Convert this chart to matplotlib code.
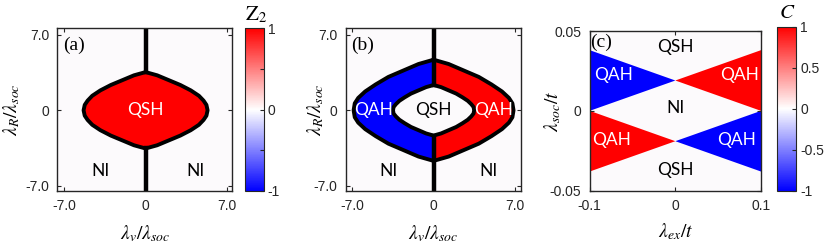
import numpy as np
import matplotlib
matplotlib.use("Agg")
import matplotlib.pyplot as plt
from matplotlib.patches import Polygon
from matplotlib.colors import Normalize
from matplotlib.cm import ScalarMappable

plt.rcParams['font.family'] = ['Liberation Sans', 'DejaVu Sans']
plt.rcParams['mathtext.fontset'] = 'stix'

# ---------------- data ----------------
# (a) boundary of QSH lens (upper-right quarter, lambda_v, lambda_R)
a_lens_x = [0.0, 1.0, 2.0, 3.0, 3.9, 4.6, 5.0, 5.25, 5.35]
a_lens_y = [3.55, 3.25, 2.8, 2.35, 1.85, 1.35, 0.9, 0.5, 0.0]
# (b) outer and inner boundaries (upper-right quarter)
b_out_x = [0.0, 1.3, 2.6, 3.9, 5.0, 5.9, 6.5, 6.8, 6.9]
b_out_y = [4.7, 4.3, 3.7, 3.1, 2.4, 1.75, 1.15, 0.65, 0.0]
b_in_x = [0.0, 0.65, 1.3, 1.95, 2.5, 2.95, 3.25, 3.45, 3.5]
b_in_y = [2.35, 2.15, 1.85, 1.55, 1.2, 0.88, 0.57, 0.3, 0.0]
# phase values
z2_qsh = 1
c_left = -1
c_right = 1
# (c) Chern-number triangles: (lambda_ex, lambda_soc) vertices and C value
c_tri_x = [[-0.1, -0.1, 0.0], [0.1, 0.1, 0.0], [-0.1, -0.1, 0.0], [0.1, 0.1, 0.0]]
c_tri_y = [[0.038, 0.0, 0.019], [0.038, 0.0, 0.019],
           [0.0, -0.038, -0.019], [0.0, -0.038, -0.019]]
c_tri_val = [-1, 1, 1, -1]

ticks_ab = [-7.0, 0.0, 7.0]
ticklabels_ab_x = ['-7.0', '0', '7.0']
ticks_cx = [-0.1, 0.0, 0.1]
ticklabels_cx = ['-0.1', '0', '0.1']
ticks_cy = [-0.05, 0.0, 0.05]
ticklabels_cy = ['-0.05', '0', '0.05']
cbar_a_ticks = [-1, -0.5, 0, 0.5, 1]
cbar_a_labels = ['-1', '', '0', '', '1']
cbar_c_ticks = [-1, -0.5, 0, 0.5, 1]
cbar_c_labels = ['-1', '-0.5', '0', '0.5', '1']

# ------------------------------------------------------------
W, H = 831, 247
fig = plt.figure(figsize=(W / 100, H / 100), dpi=100)
cmap = plt.get_cmap('bwr')
norm = Normalize(-1, 1)
bg = '#fcfafc'
dark = '#262626'
TL = 10


def fx(px):
    return px / W


def fy(py):
    return 1 - py / H


def make_ax(l, r, t, b):
    return fig.add_axes([fx(l), fy(b), fx(r) - fx(l), (b - t) / H])


def style(ax):
    ax.set_facecolor(bg)
    for s in ax.spines.values():
        s.set_color(dark)
        s.set_linewidth(1.0)
    ax.tick_params(direction='in', top=True, right=True, length=3, width=0.8,
                   color=dark, labelcolor=dark, labelsize=TL, pad=6)


def full_lens(qx, qy):
    qx = np.asarray(qx); qy = np.asarray(qy)
    rx = np.concatenate([qx, qx[::-1][1:]])
    ry = np.concatenate([qy, -qy[::-1][1:]])
    lx = -rx[::-1][1:]
    ly = ry[::-1][1:]
    return np.concatenate([rx, lx]), np.concatenate([ry, ly])


def half(qx, qy, sign):
    qx = np.asarray(qx); qy = np.asarray(qy)
    x = np.concatenate([qx, qx[::-1][1:]]) * sign
    y = np.concatenate([qy, -qy[::-1][1:]])
    return x, y


lab_kw = dict(fontsize=12.5, family=['Lato', 'DejaVu Sans'], ha='center', va='center')
xlim_ab = (-7.6, 7.5)
ylim_ab = (-7.5, 7.6)
LBL = 14

# ---------------- (a) ----------------
axa = make_ax(57.5, 232.5, 28.5, 191)
style(axa)
lx, ly = full_lens(a_lens_x, a_lens_y)
axa.add_patch(Polygon(np.column_stack([lx, ly]), closed=True,
                      facecolor=cmap(norm(z2_qsh)), edgecolor='none'))
axa.plot(np.append(lx, lx[0]), np.append(ly, ly[0]), color='k', lw=2.8, solid_joinstyle='round')
axa.plot([0, 0], [a_lens_y[0], 9], color='k', lw=3.2)
axa.plot([0, 0], [-a_lens_y[0], -9], color='k', lw=3.2)
axa.set_xlim(*xlim_ab); axa.set_ylim(*ylim_ab)
axa.set_xticks(ticks_ab); axa.set_xticklabels(ticklabels_ab_x)
axa.set_yticks(ticks_ab); axa.set_yticklabels(ticklabels_ab_x)
axa.text(0, 0, 'QSH', color='white', **lab_kw)
axa.text(-3.9, -5.6, 'NI', color='black', **lab_kw)
axa.text(4.35, -5.6, 'NI', color='black', **lab_kw)
axa.text(0.03, 0.95, '(a)', transform=axa.transAxes, fontsize=14,
         family='Liberation Serif', ha='left', va='top')
axa.set_xlabel(r'$\lambda_v/\lambda_{soc}$', fontsize=LBL)
axa.xaxis.set_label_coords(0.5, -0.2)
axa.set_ylabel(r'$\lambda_R/\lambda_{soc}$', fontsize=LBL)
axa.yaxis.set_label_coords(-0.2, 0.5)

# colorbar a
caxa = make_ax(245, 263.5, 28.5, 191)
cba = fig.colorbar(ScalarMappable(norm=norm, cmap=cmap), cax=caxa)
cba.set_ticks(cbar_a_ticks); cba.set_ticklabels(cbar_a_labels)
cba.outline.set_edgecolor(dark); cba.outline.set_linewidth(0.8)
caxa.tick_params(direction='in', length=3, width=0.8, color=dark, labelcolor=dark,
                 labelsize=TL, pad=3)
fig.text(fx(256), fy(15), r'$\mathrm{Z}_2$', fontsize=15, ha='center', va='center')

# ---------------- (b) ----------------
axb = make_ax(345.5, 520.5, 28.5, 191)
style(axb)
for sign, val in [(-1, c_left), (1, c_right)]:
    ox, oy = half(b_out_x, b_out_y, sign)
    ix, iy = half(b_in_x, b_in_y, sign)
    px = np.concatenate([ox, ix[::-1]])
    py = np.concatenate([oy, iy[::-1]])
    axb.add_patch(Polygon(np.column_stack([px, py]), closed=True,
                          facecolor=cmap(norm(val)), edgecolor='none'))
ox, oy = full_lens(b_out_x, b_out_y)
ix, iy = full_lens(b_in_x, b_in_y)
axb.plot(np.append(ox, ox[0]), np.append(oy, oy[0]), color='k', lw=2.8, solid_joinstyle='round')
axb.plot(np.append(ix, ix[0]), np.append(iy, iy[0]), color='k', lw=2.8, solid_joinstyle='round')
axb.plot([0, 0], [b_in_y[0], 9], color='k', lw=3.2)
axb.plot([0, 0], [-b_in_y[0], -9], color='k', lw=3.2)
axb.set_xlim(*xlim_ab); axb.set_ylim(*ylim_ab)
axb.set_xticks(ticks_ab); axb.set_xticklabels(ticklabels_ab_x)
axb.set_yticks(ticks_ab); axb.set_yticklabels(ticklabels_ab_x)
axb.text(-5.2, 0, 'QAH', color='white', **lab_kw)
axb.text(0, 0, 'QSH', color='black', **lab_kw)
axb.text(5.2, 0, 'QAH', color='white', **lab_kw)
axb.text(-3.9, -5.6, 'NI', color='black', **lab_kw)
axb.text(4.75, -5.6, 'NI', color='black', **lab_kw)
axb.text(0.03, 0.95, '(b)', transform=axb.transAxes, fontsize=14,
         family='Liberation Serif', ha='left', va='top')
axb.set_xlabel(r'$\lambda_v/\lambda_{soc}$', fontsize=LBL)
axb.xaxis.set_label_coords(0.5, -0.2)
axb.set_ylabel(r'$\lambda_R/\lambda_{soc}$', fontsize=LBL)
axb.yaxis.set_label_coords(-0.11, 0.5)

# ---------------- (c) ----------------
axc = make_ax(589.7, 761, 31, 190.7)
style(axc)
for tx, ty, v in zip(c_tri_x, c_tri_y, c_tri_val):
    axc.add_patch(Polygon(np.column_stack([tx, ty]), closed=True,
                          facecolor=cmap(norm(v)), edgecolor='none'))
axc.set_xlim(-0.1, 0.1); axc.set_ylim(-0.05, 0.05)
axc.set_xticks(ticks_cx); axc.set_xticklabels(ticklabels_cx)
axc.set_yticks(ticks_cy); axc.set_yticklabels(ticklabels_cy)
axc.text(0, 0.040, 'QSH', color='black', **lab_kw)
axc.text(-0.072, 0.0224, 'QAH', color='white', **lab_kw)
axc.text(0.0755, 0.0224, 'QAH', color='white', **lab_kw)
axc.text(0, 0.0016, 'NI', color='black', **lab_kw)
axc.text(-0.074, -0.0183, 'QAH', color='white', **lab_kw)
axc.text(0.0717, -0.0183, 'QAH', color='white', **lab_kw)
axc.text(0, -0.037, 'QSH', color='black', **lab_kw)
axc.text(0.0, 0.985, '(c)', transform=axc.transAxes, fontsize=14,
         family='Liberation Serif', ha='left', va='top')
axc.set_xlabel(r'$\lambda_{ex}/t$', fontsize=LBL)
axc.xaxis.set_label_coords(0.5, -0.19)
axc.set_ylabel(r'$\lambda_{soc}/t$', fontsize=LBL)
axc.yaxis.set_label_coords(-0.156, 0.5)

caxc = make_ax(777.3, 796, 26.7, 190.7)
cbc = fig.colorbar(ScalarMappable(norm=norm, cmap=cmap), cax=caxc)
cbc.set_ticks(cbar_c_ticks); cbc.set_ticklabels(cbar_c_labels)
cbc.outline.set_edgecolor(dark); cbc.outline.set_linewidth(0.8)
caxc.tick_params(direction='in', length=3, width=0.8, color=dark, labelcolor=dark,
                 labelsize=TL, pad=3)
fig.text(fx(787), fy(12), r'$C$', fontsize=15, ha='center', va='center')

fig.savefig('out.png', dpi=100)
